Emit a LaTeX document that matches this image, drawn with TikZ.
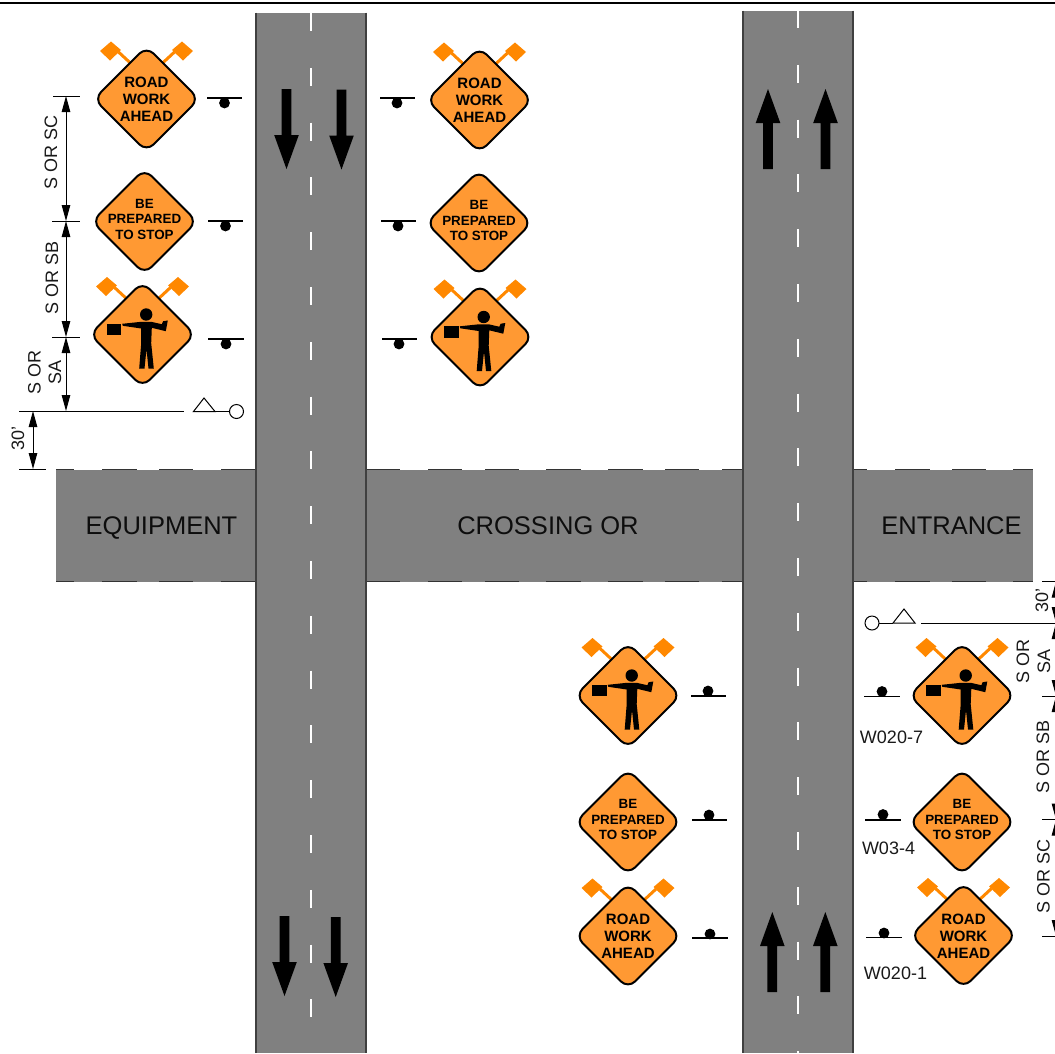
\documentclass[tikz,border=0pt]{standalone}
\usepackage{fontspec}
\setmainfont{Liberation Sans}
\usetikzlibrary{arrows.meta}
\definecolor{roadgray}{HTML}{808080}
\definecolor{signorange}{HTML}{FF9933}
\definecolor{flagorange}{HTML}{FF8800}
\tikzset{
  x=1pt,y=-1pt,
  roadfill/.style={fill=roadgray,draw=none},
  roadedge/.style={draw=black!75,line width=1.3pt},
  crossedge/.style={draw=black!80,line width=1.2pt},
  centerline/.style={draw=white,line width=1.8pt,dash pattern=on 18pt off 36.8pt},
  dimline/.style={draw=black,line width=1pt,{Triangle[length=16pt,width=8.5pt]}-{Triangle[length=16pt,width=8.5pt]}},
  tickline/.style={draw=black,line width=1pt},
  signbody/.style={fill=signorange,draw=black,line width=2pt,rounded corners=10pt},
  signtxt/.style={inner sep=0pt,align=center,font=\bfseries\fontsize{15}{17}\selectfont},
  signtxtsm/.style={inner sep=0pt,align=center,font=\bfseries\fontsize{13.4}{15.6}\selectfont},
  roadtxt/.style={inner sep=0pt,text=black!95,text height=18.3pt,text depth=0pt,font=\fontsize{25.5}{25.5}\selectfont},
  dimtxt/.style={inner sep=0pt,rotate=90,text=black!90,font=\fontsize{18}{18}\selectfont},
  codetxt/.style={inner sep=0pt,text=black!90,font=\fontsize{18}{18}\selectfont},
  postline/.style={draw=black,line width=1.1pt},
  pics/flagpair/.style={code={
    \draw[flagorange,line width=3pt] (-28,-47) -- (-14,-34) (28,-47) -- (14,-34);
    \fill[flagorange] (-46.5,-48) -- (-35.5,-57.5) -- (-25.5,-49) -- (-36.5,-38.5) -- cycle;
    \fill[flagorange] (46.5,-48) -- (35.5,-57.5) -- (25.5,-49) -- (36.5,-38.5) -- cycle;
  }},
  pics/diamond/.style={code={
    \draw[signbody] (0,-52.5) -- (52.5,0) -- (0,52.5) -- (-52.5,0) -- cycle;
  }},
  pics/roadwork/.style={code={
    \pic {flagpair}; \pic {diamond};
    \node[signtxt] (txt) at (0,0.6) {ROAD\\WORK\\AHEAD};
  }},
  pics/beprepared/.style={code={
    \pic {diamond};
    \node[signtxtsm] (txt) at (0,-2.2) {BE\\PREPARED\\TO STOP};
  }},
  pics/flagger/.style={code={
    \pic {flagpair}; \pic {diamond};
    \fill[black] (3.7,-20) circle[radius=6.2pt];
    \fill[black] (-36,-11) rectangle (-21.3,0.8);
    \fill[black] (-20.3,-10.7) -- (-1.3,-12.7) -- (8.7,-12.7) -- (19.3,-10.3) -- (20.7,-13.3) -- (25.3,-14)
      -- (23.3,-3.3) -- (9.3,-6.7) -- (8.7,8.7) -- (11.3,34) -- (6,34) -- (4,14.7) -- (2,34) -- (-3.3,34)
      -- (-1.3,8.7) -- (-1.3,-6) -- (-19.7,-8.7) -- cycle;
  }},
  pics/lanearrow/.style={code={
    \fill[black] (0,0) -- (12.3,34) -- (4.9,34) -- (4.9,80) -- (-4.9,80) -- (-4.9,34) -- (-12.3,34) -- cycle;
  }},
  pics/station/.style={code={
    \fill[black] (0,0) circle[radius=5.4pt];
  }},
  flagtri/.style={fill=white,draw=black,line width=1pt},
  flagcirc/.style={fill=white,draw=black,line width=1pt},
}
\begin{document}
\begin{tikzpicture}
\useasboundingbox (0,0) rectangle (1055,1053);
% top rule
\draw[black,line width=1.8pt] (0,3.3) -- (1055,3.3);
% cross road
\fill[roadfill] (56,469.5) rectangle (1033,581.5);
\foreach \a/\b in {56/74,102/137,159/193,221/256,366/400,428/462,485/519,546/581,608/643,665/699,722/743,853/867,895/930,952/986,1013/1033}{
  \draw[crossedge] (\a,469.3) -- (\b,469.3);
  \draw[crossedge] (\a,581.3) -- (\b,581.3);
}
% main roads
\fill[roadfill] (256,12.5) rectangle (366,1053);
\fill[roadfill] (743,10.5) rectangle (853,1053);
\draw[roadedge] (256,12.5) -- (256,1053) (366,12.5) -- (366,1053);
\draw[roadedge] (743,10.5) -- (743,1053) (853,10.5) -- (853,1053);
\draw[centerline] (311,13) -- (311,1053);
\draw[centerline] (798,10) -- (798,1053);
\node[roadtxt] (equip) at (161.5,525) {EQUIPMENT};
\node[roadtxt] (cross) at (548,525) {CROSSING OR};
\node[roadtxt] (entr) at (951.5,525) {ENTRANCE};
% lane arrows
\pic[yscale=-1] (la1) at (286.5,169) {lanearrow};
\pic[yscale=-1] (la2) at (341.5,169.5) {lanearrow};
\pic[yscale=-1] (la3) at (284.5,996) {lanearrow};
\pic[yscale=-1] (la4) at (335.7,997) {lanearrow};
\pic (la5) at (768,89) {lanearrow};
\pic (la6) at (825.5,89) {lanearrow};
\pic (la7) at (772.3,912) {lanearrow};
\pic (la8) at (825.3,912) {lanearrow};
% signs
\pic (s1) at (146.5,99) {roadwork};
\pic (s2) at (144.5,221.5) {beprepared};
\pic (s3) at (142.5,334.5) {flagger};
\pic (s4) at (479.5,100) {roadwork};
\pic (s5) at (479,223) {beprepared};
\pic (s6) at (480,337) {flagger};
\pic (s7) at (628,695.5) {flagger};
\pic (s8) at (628,822) {beprepared};
\pic (s9) at (628,936) {roadwork};
\pic (s10) at (962,695.5) {flagger};
\pic (s11) at (962,822) {beprepared};
\pic (s12) at (963.5,935.5) {roadwork};
% sign posts
\foreach \a/\b/\y/\dx/\dy in {207/242/98/224.5/103,208/243/221/225.5/226,208/244/339/226/344,
  380/415/98/397/103,381/416/221/398/226,382/417/339/399/344,
  691/726/696/708/691,692/727/820/709/815,692/728/938/710/934,
  864/900/696.5/882/691.5,865/901/820/883/814.5,866/902/937.7/884/933}{
  \draw[postline] (\a,\y) -- (\b,\y);
  \pic at (\dx,\dy) {station};
}
% flagger stations
\coordinate (lineL) at (19,411);
\coordinate (lineLe) at (184,411);
\draw[tickline] (lineL) -- (lineLe);
\draw[tickline] (215,411.5) -- (230,411.5);
\node[flagcirc,circle,minimum size=14pt,inner sep=0pt] (cL) at (236.5,411.5) {};
\draw[flagtri] (193.5,411.5) -- (204,398) -- (215,411.5) -- cycle;
\coordinate (lineR) at (1055,623);
\coordinate (lineRe) at (921,623);
\draw[tickline] (lineRe) -- (lineR);
\draw[tickline] (879,623) -- (893,623);
\node[flagcirc,circle,minimum size=14pt,inner sep=0pt] (cR) at (872,623) {};
\draw[flagtri] (893,623) -- (904,609) -- (915,623) -- cycle;
% left dimensions
\coordinate (d1) at (66,96);
\coordinate (d2) at (66,221);
\coordinate (d3) at (66,337);
\coordinate (d4) at (66,411);
\coordinate (e1) at (33,411);
\coordinate (e2) at (33,469);
\draw[tickline] (53,96) -- (80,96) (52,221) -- (80,221) (52,337) -- (80,337) (19,469) -- (46,469);
\draw[dimline] (d1) -- (d2);
\draw[dimline] (d2) -- (d3);
\draw[dimline] (d3) -- (d4);
\draw[dimline] (e1) -- (e2);
\node[dimtxt] (tsc) at (51,152.5) {S OR SC};
\node[dimtxt] (tsb) at (52,278) {S OR SB};
\node[dimtxt] (tso) at (34.5,372) {S OR};
\node[dimtxt] (tsa) at (55,372) {SA};
\node[dimtxt] (t30) at (18,438) {30'};
% right dimensions
\coordinate (r0) at (1056,581.5);
\coordinate (r1) at (1056,623);
\coordinate (r2) at (1056,696);
\coordinate (r3) at (1056,819.5);
\coordinate (r4) at (1056,936);
\draw[tickline] (1042,581.5) -- (1055,581.5) (1042,696) -- (1055,696) (1042,819.5) -- (1055,819.5) (1042,936) -- (1055,936);
\draw[dimline] (r0) -- (r1);
\draw[dimline] (r1) -- (r2);
\draw[dimline] (r2) -- (r3);
\draw[dimline] (r3) -- (r4);
\node[dimtxt] (rt30) at (1042,600) {30'};
\node[dimtxt] (rso) at (1023,661.5) {S OR};
\node[dimtxt] (rsa) at (1044,661.5) {SA};
\node[dimtxt] (rsb) at (1043,756.5) {S OR SB};
\node[dimtxt] (rsc) at (1043.5,876.5) {S OR SC};
% sign codes
\node[codetxt] (c1) at (891.5,737) {W020-7};
\node[codetxt] (c2) at (888.5,848) {W03-4};
\node[codetxt] (c3) at (895.5,973) {W020-1};
\end{tikzpicture}
\end{document}
